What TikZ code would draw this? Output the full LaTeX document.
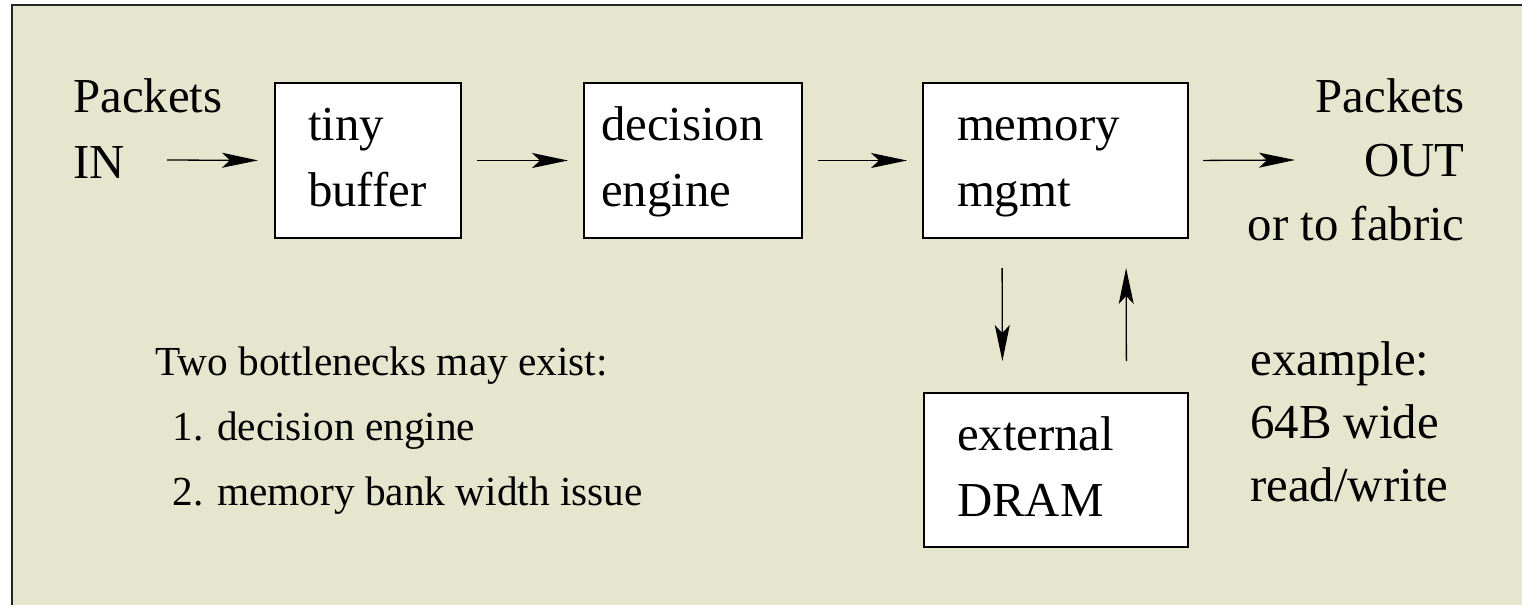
\documentclass[tikz,border=0pt]{standalone}
\usepackage{fontspec}
\setmainfont{Liberation Serif}
\usetikzlibrary{arrows.meta}
\definecolor{fondo}{RGB}{230,230,206}

\begin{document}
\begin{tikzpicture}[x=0.5pt,y=-0.5pt,
  box/.style={draw=black,line width=1.4pt,fill=white,align=left,inner ysep=0pt,outer sep=0pt,
    minimum height=77.5pt,font=\fontsize{24.4}{33}\selectfont},
  arr/.style={-{Stealth[length=18pt,width=7.5pt,inset=4pt]},line width=0.65pt},
  txt/.style={inner sep=0pt,align=left}]
  \useasboundingbox (0,0) rectangle (1522,605);
  \clip (0,0) rectangle (1522,605);

  % Fondo con marco
  \draw[fill=fondo,draw=black!85,line width=1pt] (12,5) rectangle (1540,620);

  % Bloques de la ruta de paquetes
  \node[box,text width=60pt,inner xsep=16.5pt] (buf) at (368,160.5) {\strut tiny\\buffer\strut};
  \node[box,text width=92pt,inner xsep=8.5pt] (dec) at (693,160.5) {\strut decision\\engine\strut};
  \node[box,text width=98.5pt,inner xsep=17pt] (mem) at (1055.5,160.5) {\strut memory\\mgmt\strut};
  \node[box,text width=99pt,inner xsep=16.5pt,minimum height=77pt] (dram) at (1056,470) {\strut external\\DRAM\strut};

  % Textos de entrada y salida
  \node[txt,anchor=north west,font=\fontsize{24.4}{33}\selectfont] (pin) at (73,65.8) {\strut Packets\\IN};
  \node[txt,anchor=north east,align=right,font=\fontsize{24.4}{32}\selectfont] (pout) at (1465,67.2)
    {\strut Packets\\OUT\\or to fabric};

  % Notas
  \node[txt,anchor=north west,font=\fontsize{20.65}{32.5}\selectfont] (notas) at (155,329.5)
    {\strut Two bottlenecks may exist:\\\hspace*{8.5pt}1. decision engine\\\hspace*{8.5pt}2. memory bank width issue};
  \node[txt,anchor=north west,font=\fontsize{24.4}{31.5}\selectfont] (ejemplo) at (1250,331)
    {\strut example:\\64B wide\\read/write};

  % Flechas horizontales
  \coordinate (inpt) at (167,160);
  \coordinate (outpt) at (1295,160);
  \draw[arr,shorten >=8.5pt] (inpt) -- (buf.west);
  \foreach \from/\to in {buf/dec, dec/mem}
    \draw[arr,shorten <=8pt,shorten >=8pt] (\from.east) -- (\to.west);
  \draw[arr,shorten <=7.5pt] (mem.east) -- (outpt);

  % Flechas hacia y desde la DRAM
  \draw[arr,shorten <=15pt,shorten >=16pt] ([xshift=-26.75pt]mem.south) -- ([xshift=-26.75pt]dram.north);
  \draw[arr,shorten <=16pt,shorten >=15pt] ([xshift=35.25pt]dram.north) -- ([xshift=35.25pt]mem.south);
\end{tikzpicture}
\end{document}
